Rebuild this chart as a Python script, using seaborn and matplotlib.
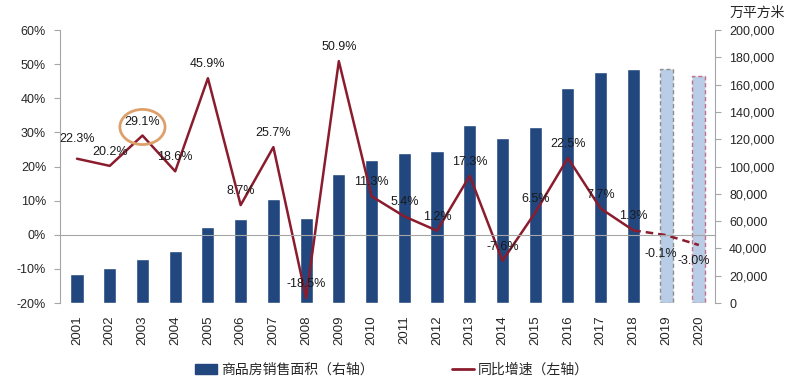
import matplotlib
matplotlib.use('Agg')
import matplotlib.pyplot as plt
import seaborn as sns
import numpy as np
import pandas as pd
from matplotlib.patches import Ellipse, Patch
from matplotlib.lines import Line2D
from matplotlib.ticker import FuncFormatter, FixedLocator, MultipleLocator

#data
years = ['2001', '2002', '2003', '2004', '2005', '2006', '2007', '2008', '2009', '2010',
         '2011', '2012', '2013', '2014', '2015', '2016', '2017', '2018', '2019', '2020']
area = [21000, 25500, 32600, 38200, 55600, 61500, 76000, 62500, 94500, 104600,
        110000, 111300, 130600, 120800, 128800, 157600, 169600, 171600, 171600, 166600]
growth = [22.3, 20.2, 29.1, 18.6, 45.9, 8.7, 25.7, -18.5, 50.9, 11.3,
          5.4, 1.2, 17.3, -7.6, 6.5, 22.5, 7.7, 1.3, -0.1, -3.0]
forecast = ['2019', '2020']
bar_label = '商品房销售面积（右轴）'
line_label = '同比增速（左轴）'
unit_label = '万平方米'

#colours
bar_col = '#21477e'
fc_col = '#b9cde6'
line_col = '#8a1c2e'
grid_col = '#a6a6a6'

sns.set_style('white')
plt.rcParams['font.family'] = ['Liberation Sans', 'Noto Sans CJK SC', 'DejaVu Sans']
plt.rcParams['font.size'] = 9

fig = plt.figure(figsize=(8, 3.86), dpi=100)
ax_bar = fig.add_axes([0.075, 0.215, 0.819, 0.707])

df = pd.DataFrame({'year': years, 'area': area})
pal = [fc_col if y in forecast else bar_col for y in years]
sns.barplot(data=df, x='year', y='area', hue='year', palette=pal, legend=False,
            width=0.4, saturation=1, ax=ax_bar)
for p, y in zip(ax_bar.patches, years):
    if y in forecast:
        p.set_linestyle((0, (3, 2)))
        p.set_linewidth(1)
        p.set_edgecolor('#8c8c8c' if y == '2019' else '#c0708a')

ax_line = ax_bar.twinx()
idx = np.arange(len(years))
sns.lineplot(x=idx[:18], y=growth[:18], ax=ax_line, color=line_col, lw=1.8)
sns.lineplot(x=idx[17:], y=growth[17:], ax=ax_line, color=line_col, lw=1.8, linestyle=(0, (3, 2)))

#point labels
offsets = {0: (0, 20), 18: (-5, -19), 19: (-5, -16)}
for i, v in enumerate(growth):
    dx, dy = offsets.get(i, (0, 14))
    ax_line.annotate(f'{v:.1f}%', (i, v), xytext=(dx, dy), textcoords='offset pixels',
                     ha='center', va='center', fontsize=9, color='#1a1a1a')

#circle around 2003
ax_line.add_patch(Ellipse((2, 31.6), 1.38, 10.3, fill=False, edgecolor='#dda06a', lw=2, zorder=5))

#axes setup
ax_line.set_ylim(-20, 60)
ax_line.yaxis.set_major_locator(MultipleLocator(10))
ax_line.yaxis.set_major_formatter(FuncFormatter(lambda v, _: f'{v:.0f}%'))
ax_line.yaxis.tick_left()
ax_bar.set_ylim(0, 200000)
ax_bar.yaxis.set_major_locator(MultipleLocator(20000))
ax_bar.yaxis.set_major_formatter(FuncFormatter(lambda v, _: f'{int(v):,}'))
ax_bar.yaxis.tick_right()
ax_bar.set_xlim(-0.52, len(years) - 0.5)
ax_bar.xaxis.set_minor_locator(FixedLocator(np.arange(len(years) + 1) - 0.5))

for a in (ax_bar, ax_line):
    a.set_xlabel('')
    a.set_ylabel('')
    a.spines['top'].set_visible(False)

ax_bar.spines['left'].set_visible(False)
ax_bar.spines['bottom'].set_visible(False)
ax_bar.spines['right'].set_color(grid_col)
ax_line.spines['right'].set_visible(False)
ax_line.spines['left'].set_color(grid_col)
ax_line.spines['bottom'].set_position(('data', 0))
ax_line.spines['bottom'].set_color(grid_col)
ax_line.xaxis.set_visible(True)

ax_bar.tick_params(axis='x', which='major', length=0, pad=9, labelrotation=90, labelsize=9.5)
ax_bar.tick_params(axis='x', which='minor', length=0)
ax_bar.tick_params(axis='y', length=4, color=grid_col, labelsize=9, pad=6)
ax_line.tick_params(axis='x', which='major', length=0, labelbottom=False)
ax_line.tick_params(axis='x', which='minor', length=4, color=grid_col, direction='out')
ax_line.tick_params(axis='y', length=4, color=grid_col, labelsize=9, pad=6)

fig.text(0.946, 0.966, unit_label, ha='center', va='center', fontsize=10)

handles = [Patch(color=bar_col), Line2D([], [], color=line_col, lw=2)]
fig.legend(handles, [bar_label, line_label], loc='center', bbox_to_anchor=(0.49, 0.042),
           ncol=2, frameon=False, columnspacing=5.6, handlelength=1.6, handletextpad=0.3,
           handleheight=0.8, fontsize=10)

fig.savefig('out.png', dpi=100)
